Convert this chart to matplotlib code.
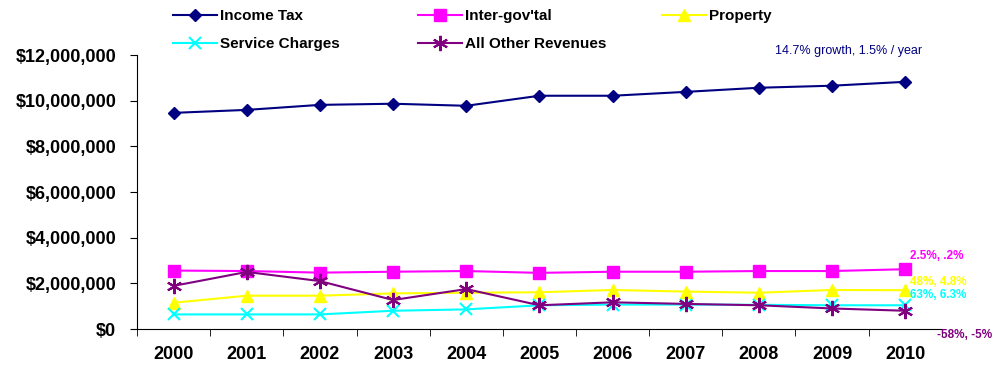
import matplotlib.pyplot as plt
from matplotlib.ticker import FuncFormatter

plt.rcParams['font.family'] = ['Liberation Sans', 'DejaVu Sans']

years = ["2000", "2001", "2002", "2003", "2004", "2005",
         "2006", "2007", "2008", "2009", "2010"]

income_tax = [9.47e6, 9.60e6, 9.82e6, 9.87e6, 9.78e6, 10.22e6,
              10.22e6, 10.39e6, 10.57e6, 10.66e6, 10.83e6]
inter_govtal = [2.56e6, 2.54e6, 2.47e6, 2.51e6, 2.54e6, 2.46e6,
                2.51e6, 2.51e6, 2.54e6, 2.54e6, 2.62e6]
property_tax = [1.15e6, 1.46e6, 1.46e6, 1.56e6, 1.59e6, 1.61e6,
                1.71e6, 1.64e6, 1.59e6, 1.71e6, 1.70e6]
service_charges = [0.64e6, 0.64e6, 0.64e6, 0.80e6, 0.86e6, 1.04e6,
                   1.07e6, 1.07e6, 1.06e6, 1.04e6, 1.04e6]
all_other = [1.89e6, 2.50e6, 2.10e6, 1.27e6, 1.75e6, 1.04e6,
             1.17e6, 1.10e6, 1.04e6, 0.90e6, 0.80e6]

fig = plt.figure(figsize=(10.03, 3.65), dpi=100)
ax = fig.add_axes([0.1366, 0.0986, 0.8024, 0.7504])

x = list(range(len(years)))
asterisk = (6, 2, 0)

# series: values, label, colour, marker, marker size
series = [
    (income_tax, "Income Tax", "#000080", "D", 6),
    (inter_govtal, "Inter-gov'tal", "#FF00FF", "s", 8),
    (property_tax, "Property", "#FFFF00", "^", 9),
    (service_charges, "Service Charges", "#00FFFF", "x", 9),
    (all_other, "All Other Revenues", "#800080", asterisk, 11),
]

handles = []
for vals, label, color, marker, ms in series:
    line, = ax.plot(x, vals, color=color, marker=marker, markersize=ms,
                    markeredgewidth=1.5 if marker in ("x", asterisk) else 1,
                    linewidth=1.5, label=label, clip_on=False)
    handles.append(line)

ax.set_xlim(-0.5, 10.5)
ax.set_ylim(0, 12e6)
ax.set_yticks(range(0, 12000001, 2000000))
ax.yaxis.set_major_formatter(FuncFormatter(lambda v, p: "${:,.0f}".format(v)))

ax.set_xticks(x)
ax.set_xticklabels(years)
ax.set_xticks([i - 0.5 for i in range(len(years) + 1)], minor=True)
ax.tick_params(axis='x', which='major', length=0, pad=12)
ax.tick_params(axis='x', which='minor', length=5, direction='out')
ax.tick_params(axis='y', length=5, direction='out', pad=10)
for lbl in ax.get_xticklabels() + ax.get_yticklabels():
    lbl.set_fontsize(13)
    lbl.set_fontweight('bold')

ax.spines['top'].set_visible(False)
ax.spines['right'].set_visible(False)

# legend laid out as three fixed columns
columns = [([0, 3], 0.1725), ([1, 4], 0.4167), ([2], 0.660)]
for idx, xpos in columns:
    fig.legend([handles[i] for i in idx], [handles[i].get_label() for i in idx],
               loc='upper left', bbox_to_anchor=(xpos, 0.9754),
               frameon=False, prop={'size': 11, 'weight': 'bold'},
               handlelength=2.9, labelspacing=0.91, handletextpad=0.2,
               borderpad=0, borderaxespad=0)

# growth notes at right
fig.text(0.7725, 0.860, "14.7% growth, 1.5% / year", color="#000080",
         fontsize=9, ha='left', va='center')
notes = [
    ("2.5%, .2%", "#FF00FF", 0.299, 0.9075),
    ("48%, 4.8%", "#FFFF00", 0.228, 0.9075),
    ("63%, 6.3%", "#00FFFF", 0.192, 0.9075),
    ("-58%, -5%", "#800080", 0.082, 0.934),
]
for txt, color, yf, xf in notes:
    fig.text(xf, yf, txt, color=color, fontsize=8.5, fontweight='bold',
             ha='left', va='center')

fig.savefig("out.png", dpi=100)
